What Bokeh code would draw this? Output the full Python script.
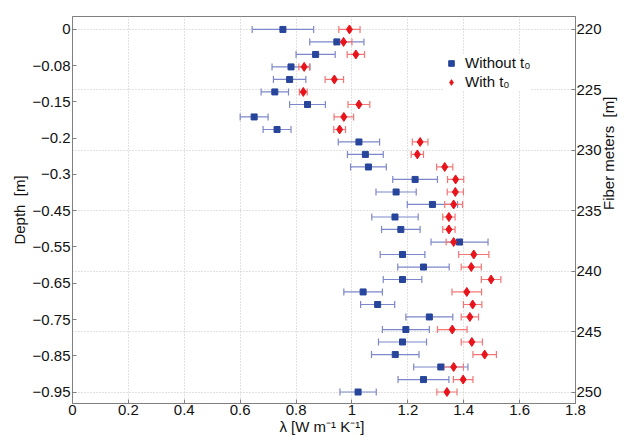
import math
from bokeh.plotting import figure
from bokeh.models import (Range1d, LinearAxis, FixedTicker, Whisker, TeeHead,
                          ColumnDataSource, Legend, LegendItem)
from bokeh.embed import file_html
from bokeh.resources import INLINE

# ---- data ----
fiber_m = [220.0, 221.03, 222.07, 223.10, 224.14, 225.17, 226.21, 227.24, 228.28, 229.31,
           230.34, 231.38, 232.41, 233.45, 234.48, 235.52, 236.55, 237.59, 238.62, 239.66,
           240.69, 241.72, 242.76, 243.79, 244.83, 245.86, 246.90, 247.93, 248.97, 250.0]

lam_without = [0.753, 0.946, 0.870, 0.782, 0.777, 0.724, 0.841, 0.650, 0.732, 1.025,
               1.048, 1.059, 1.226, 1.158, 1.288, 1.154, 1.175, 1.385, 1.181, 1.256,
               1.181, 1.040, 1.092, 1.277, 1.193, 1.181, 1.155, 1.318, 1.256, 1.022]
err_without = [0.110, 0.097, 0.070, 0.068, 0.058, 0.049, 0.064, 0.050, 0.050, 0.074,
               0.064, 0.064, 0.080, 0.072, 0.090, 0.083, 0.069, 0.102, 0.080, 0.092,
               0.069, 0.069, 0.061, 0.084, 0.084, 0.086, 0.085, 0.097, 0.091, 0.065]

lam_with = [0.991, 0.970, 1.014, 0.829, 0.937, 0.826, 1.025, 0.971, 0.956, 1.244,
            1.234, 1.332, 1.371, 1.370, 1.364, 1.347, 1.347, 1.364, 1.436, 1.427,
            1.498, 1.411, 1.432, 1.422, 1.359, 1.429, 1.475, 1.364, 1.398, 1.340]
err_with = [0.038, 0.030, 0.031, 0.019, 0.033, 0.014, 0.039, 0.035, 0.021, 0.028,
            0.022, 0.029, 0.029, 0.029, 0.032, 0.022, 0.022, 0.027, 0.054, 0.036,
            0.035, 0.053, 0.033, 0.031, 0.053, 0.038, 0.042, 0.035, 0.035, 0.036]

x_ticks = [0, 0.2, 0.4, 0.6, 0.8, 1.0, 1.2, 1.4, 1.6, 1.8]
x_tick_labels = ["0", "0.2", "0.4", "0.6", "0.8", "1", "1.2", "1.4", "1.6", "1.8"]

depth_tick_pos = [220, 223, 226, 229, 232, 235, 238, 241, 244, 247, 250]
depth_tick_labels = ["0", "\u22120.08", "\u22120.15", "\u22120.2", "\u22120.3", "\u22120.45",
                     "\u22120.55", "\u22120.65", "\u22120.75", "\u22120.85", "\u22120.95"]

fiber_ticks = [220, 225, 230, 235, 240, 245, 250]

x_label = "\u03bb  [W m\u207b\u00b9 K\u207b\u00b9]"
left_label = "Depth \u00a0[m]"
right_label = "Fiber meters \u00a0[m]"

# ---- styling ----
FONT = "Liberation Sans"
TXT = "#111111"
AXC = "#808080"
BLUE = "#27459b"
BLUE_ERR = "#7d87c9"
RED = "#e8141c"
RED_ERR = "#f27676"

p = figure(width=628, height=439, output_backend="svg", toolbar_location=None,
           x_range=Range1d(0, 1.8), y_range=Range1d(250.95, 218.93),
           min_border_left=72, min_border_right=43, min_border_top=16, min_border_bottom=36,
           background_fill_color="white", border_fill_color="white")
p.outline_line_color = AXC

# bottom x axis
xa = p.xaxis[0]
xa.ticker = FixedTicker(ticks=x_ticks)
xa.major_label_overrides = {t: s for t, s in zip(x_ticks, x_tick_labels)}
xa.axis_label = x_label

# left depth axis
ya = p.yaxis[0]
ya.ticker = FixedTicker(ticks=depth_tick_pos)
ya.major_label_overrides = {t: s for t, s in zip(depth_tick_pos, depth_tick_labels)}
ya.axis_label = left_label

# right fiber-meters axis
ra = LinearAxis(ticker=FixedTicker(ticks=fiber_ticks), axis_label=right_label)
p.add_layout(ra, "right")
if "axis_label_orientation" in ra.properties():
    ra.axis_label_orientation = math.pi / 2

for ax in (xa, ya, ra):
    ax.axis_line_color = AXC
    ax.major_tick_line_color = AXC
    ax.major_tick_in = 4
    ax.major_tick_out = 0
    ax.minor_tick_line_color = None
    ax.major_label_text_font = FONT
    ax.axis_label_text_font = FONT
    ax.major_label_text_color = TXT
    ax.axis_label_text_color = TXT
    ax.axis_label_text_font_style = "normal"
    ax.major_label_text_font_size = "15px"
    ax.axis_label_text_font_size = "15px"
    ax.major_label_standoff = 2
    ax.axis_label_standoff = 2
xa.major_label_standoff = 1
xa.axis_label_standoff = 0
ra.major_label_standoff = 1
ra.axis_label_standoff = 4

# grids
p.xgrid.ticker = FixedTicker(ticks=x_ticks)
p.ygrid.ticker = FixedTicker(ticks=fiber_ticks)
for g in (p.xgrid[0], p.ygrid[0]):
    g.grid_line_color = "#c4c4c4"
    g.grid_line_dash = "1 2"
    g.grid_line_width = 1

# error bars
src_b = ColumnDataSource(dict(y=fiber_m, x=lam_without,
                              lo=[v - e for v, e in zip(lam_without, err_without)],
                              hi=[v + e for v, e in zip(lam_without, err_without)]))
src_r = ColumnDataSource(dict(y=fiber_m, x=lam_with,
                              lo=[v - e for v, e in zip(lam_with, err_with)],
                              hi=[v + e for v, e in zip(lam_with, err_with)]))

wb = Whisker(source=src_b, base="y", lower="lo", upper="hi", dimension="width",
             line_color=BLUE_ERR, line_width=1.2,
             upper_head=TeeHead(size=7, line_color=BLUE_ERR, line_width=1.2),
             lower_head=TeeHead(size=7, line_color=BLUE_ERR, line_width=1.2))
wr = Whisker(source=src_r, base="y", lower="lo", upper="hi", dimension="width",
             line_color=RED_ERR, line_width=1.2,
             upper_head=TeeHead(size=7, line_color=RED_ERR, line_width=1.2),
             lower_head=TeeHead(size=7, line_color=RED_ERR, line_width=1.2))
p.add_layout(wb)
p.add_layout(wr)

rb = p.scatter("x", "y", source=src_b, marker="square", size=6,
               fill_color=BLUE, line_color=BLUE)
rr = p.scatter("x", "y", source=src_r, marker="diamond", size=9,
               fill_color=RED, line_color=RED)

legend = Legend(items=[LegendItem(label="Without t\u2080", renderers=[rb]),
                       LegendItem(label="With t\u2080", renderers=[rr])],
                location=(372, 313))
legend.label_text_font = FONT
legend.label_text_font_size = "15px"
legend.label_text_color = TXT
legend.border_line_color = None
legend.background_fill_color = "white"
legend.background_fill_alpha = 1.0
legend.glyph_width = 14
legend.glyph_height = 14
legend.label_standoff = 7
legend.spacing = 2
legend.padding = 6
legend.margin = 0
p.add_layout(legend)

open("out.html", "w").write(file_html(p, INLINE))
